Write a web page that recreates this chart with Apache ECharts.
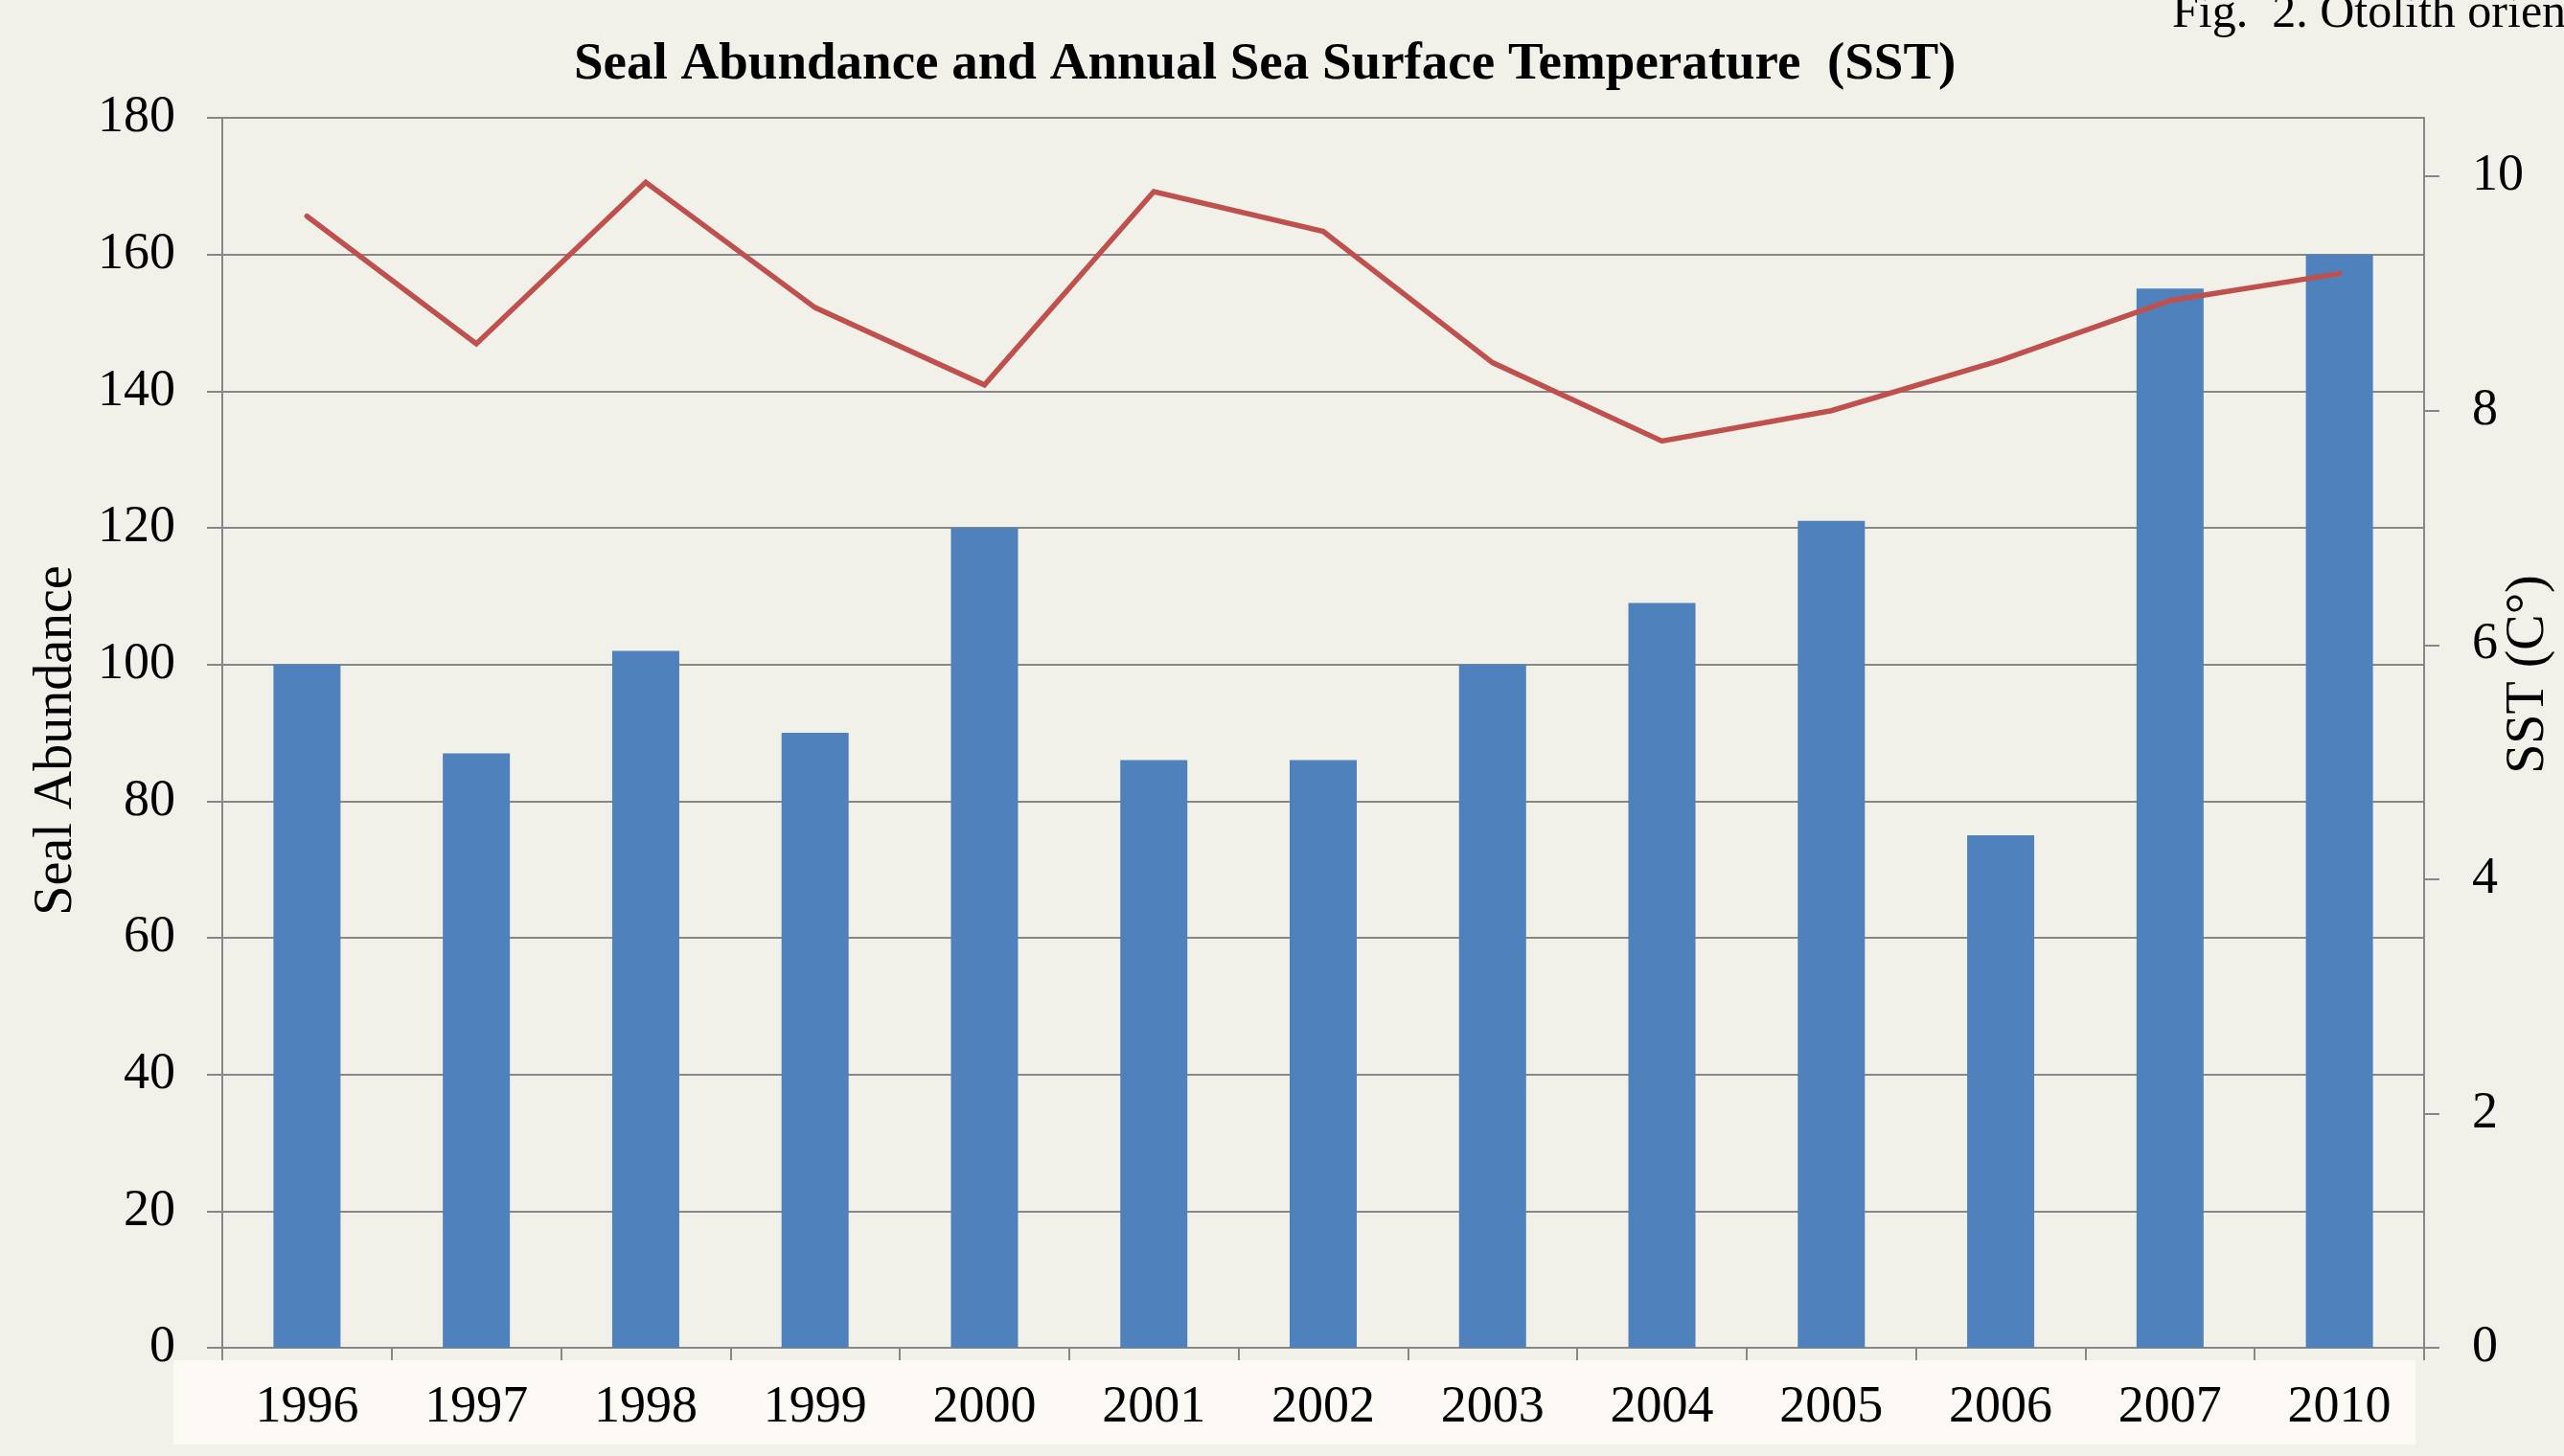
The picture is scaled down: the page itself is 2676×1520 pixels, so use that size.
<!DOCTYPE html>
<html>
<head>
<meta charset="utf-8">
<script src="https://cdn.jsdelivr.net/npm/echarts@6/dist/echarts.min.js"></script>
<style>
html,body{margin:0;padding:0;background:#F2F1E9;}
#chart{width:2676px;height:1520px;}
</style>
</head>
<body>
<div id="chart"></div>
<script>
const years = ['1996','1997','1998','1999','2000','2001','2002','2003','2004','2005','2006','2007','2010'];
const sealAbundance = [100, 87, 102, 90, 120, 86, 86, 100, 109, 121, 75, 155, 160];
const sst = [9.66, 8.57, 9.95, 8.88, 8.22, 9.87, 9.53, 8.41, 7.74, 8.00, 8.43, 8.94, 9.17];
const leftTicks = [0, 20, 40, 60, 80, 100, 120, 140, 160, 180];
const rightTicks = [0, 2, 4, 6, 8, 10];

const FONT = 'Liberation Serif';
const GRAY = '#878787';

const chart = echarts.init(document.getElementById('chart'), null, {renderer: 'canvas'});
chart.setOption({
  backgroundColor: '#F2F1E9',
  animation: false,
  textStyle: {fontFamily: FONT},
  title: {
    text: 'Seal Abundance and Annual Sea Surface Temperature  (SST)',
    left: 594,
    top: 35,
    textStyle: {fontFamily: FONT, fontWeight: 'bold', fontSize: 55, color: '#000'}
  },
  graphic: [
    {
      type: 'rect', z: -5,
      shape: {x: 181, y: 1420, width: 2340, height: 88},
      style: {fill: '#FCF9F4'}
    },
    {
      type: 'text', left: 2267, top: -10,
      style: {text: 'Fig.  2. Otolith orientation', font: '50px "Liberation Serif"', fill: '#000'}
    }
  ],
  grid: {left: 232, right: 146, top: 123, bottom: 113, containLabel: false, outerBoundsMode: 'none'},
  xAxis: {
    type: 'category',
    data: years,
    boundaryGap: true,
    axisLine: {show: true, lineStyle: {color: GRAY, width: 2}},
    axisTick: {show: true, interval: 0, length: 13, lineStyle: {color: GRAY, width: 2}},
    axisLabel: {interval: 0, margin: 36, fontSize: 54, color: '#000', fontFamily: FONT},
    splitLine: {show: false}
  },
  yAxis: [
    {
      type: 'value', min: 0, max: 180, interval: 20,
      name: 'Seal Abundance', nameLocation: 'middle', nameRotate: 90, nameGap: 145,
      nameMoveOverlap: false,
      nameTextStyle: {fontSize: 56, color: '#000', fontFamily: FONT, padding: [0, 16, 0, 0]},
      axisLine: {show: true, lineStyle: {color: GRAY, width: 2}},
      axisTick: {show: true, length: 16, lineStyle: {color: GRAY, width: 2}},
      axisLabel: {margin: 49, fontSize: 54, color: '#000', fontFamily: FONT,
        customValues: leftTicks},
      splitLine: {show: true, lineStyle: {color: GRAY, width: 2}}
    },
    {
      type: 'value', position: 'right', min: 0, max: 10.5,
      name: 'SST (C°)', nameLocation: 'middle', nameRotate: 90, nameGap: 81,
      nameMoveOverlap: false,
      nameTextStyle: {fontSize: 56, color: '#000', fontFamily: FONT, padding: [0, 0, 0, 122]},
      axisLine: {show: true, lineStyle: {color: GRAY, width: 2}},
      axisTick: {show: true, length: 16, lineStyle: {color: GRAY, width: 2}, customValues: rightTicks},
      axisLabel: {show: false},
      splitLine: {show: false}
    },
    {
      type: 'value', position: 'right', offset: 42, min: 0, max: 10.5,
      axisLine: {show: false},
      axisTick: {show: false},
      axisLabel: {show: true, fontSize: 54, color: '#000', fontFamily: FONT, customValues: rightTicks},
      splitLine: {show: false}
    }
  ],
  series: [
    {
      type: 'bar', name: 'Seal Abundance', data: sealAbundance,
      yAxisIndex: 0, barWidth: 70,
      itemStyle: {color: '#4F81BD'}, z: 2
    },
    {
      type: 'line', name: 'SST', data: sst,
      yAxisIndex: 1, showSymbol: false, symbol: 'none',
      lineStyle: {color: '#C0504D', width: 5.5, cap: 'round', join: 'miter'},
      z: 3
    }
  ]
});
</script>
</body>
</html>
